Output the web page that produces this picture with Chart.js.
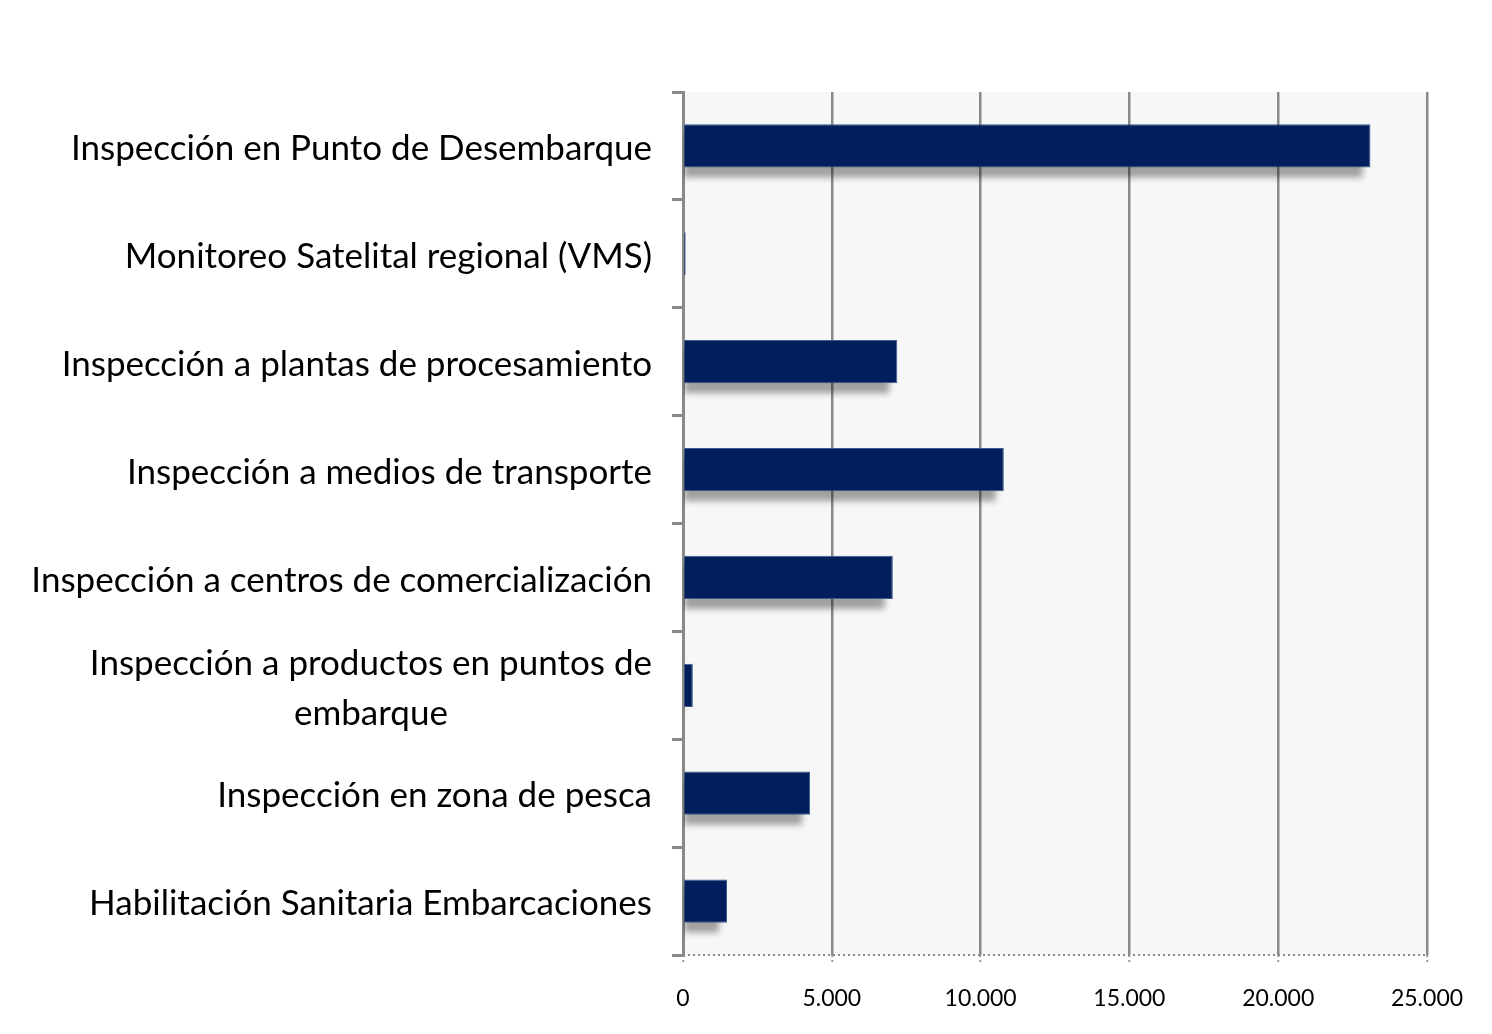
<!DOCTYPE html>
<html>
<head>
<meta charset="utf-8">
<script src="https://cdn.jsdelivr.net/npm/chart.js@4"></script>
<style>
  html, body { margin: 0; padding: 0; background: #fff; }
  #wrap { width: 1492px; height: 1034px; }
</style>
</head>
<body>
<div id="wrap"><canvas id="chart"></canvas></div>
<script>
const categories = [
    "Inspección en Punto de Desembarque",
    "Monitoreo Satelital regional (VMS)",
    "Inspección a plantas de procesamiento",
    "Inspección a medios de transporte",
    "Inspección a centros de comercialización",
    ["Inspección a productos en puntos de", "embarque"],
    "Inspección en zona de pesca",
    "Habilitación Sanitaria Embarcaciones"
];
const inspections = [23100, 90, 7200, 10780, 7050, 330, 4270, 1480];
const xTicks = [0, 5000, 10000, 15000, 20000, 25000];

const labelFont = '35px Lato, "Open Sans", sans-serif';

// plot background, bar shadows, dotted baseline and category labels
const decor = {
    id: 'decor',
    beforeDraw(chart) {
        const { ctx, chartArea: a } = chart;
        ctx.save();
        ctx.fillStyle = '#f7f7f7';
        ctx.fillRect(a.left, a.top, a.right - a.left, a.bottom - a.top);
        ctx.restore();
    },
    beforeDatasetsDraw(chart) {
        const ctx = chart.ctx;
        const a = chart.chartArea;
        ctx.save();
        ctx.beginPath();
        ctx.rect(a.left, a.top, a.right - a.left, a.bottom - a.top);
        ctx.clip();
        ctx.filter = 'blur(3px)';
        ctx.fillStyle = 'rgba(0, 0, 0, 0.35)';
        chart.getDatasetMeta(0).data.forEach(bar => {
            const h = bar.height;
            const w = bar.x - bar.base;
            if (w < 2) return;
            ctx.fillRect(bar.base, bar.y - h / 2 + 10, w - 8, h);
        });
        ctx.restore();
    },
    afterDraw(chart) {
        const ctx = chart.ctx;
        const a = chart.chartArea;
        const y = chart.scales.y;

        // dotted baseline
        ctx.save();
        ctx.strokeStyle = '#8a8a8a';
        ctx.lineWidth = 2;
        ctx.setLineDash([2, 3]);
        ctx.beginPath();
        ctx.moveTo(a.left, a.bottom);
        ctx.lineTo(a.right, a.bottom);
        ctx.stroke();
        ctx.restore();

        const right = a.left - 31;
        ctx.save();
        ctx.font = labelFont;
        ctx.fillStyle = '#000';
        ctx.textBaseline = 'middle';
        ctx.textAlign = 'center';
        categories.forEach((lab, i) => {
            const lines = Array.isArray(lab) ? lab : [lab];
            const blockW = Math.max(...lines.map(l => ctx.measureText(l).width));
            const cx = right - blockW / 2;
            const lh = 50;
            const y0 = y.getPixelForTick(i) + 3 - (lines.length - 1) * lh / 2;
            lines.forEach((l, k) => ctx.fillText(l, cx, y0 + k * lh));
        });
        ctx.restore();
    }
};

const fmt = v => v.toString().replace(/\B(?=(\d{3})+(?!\d))/g, '.');

new Chart(document.getElementById('chart'), {
    type: 'bar',
    data: {
        labels: categories,
        datasets: [{
            data: inspections,
            backgroundColor: '#001f5c',
            borderColor: '#3b5a8f',
            borderWidth: 1,
            barPercentage: 0.4,
            categoryPercentage: 1
        }]
    },
    options: {
        indexAxis: 'y',
        responsive: true,
        maintainAspectRatio: false,
        animation: false,
        layout: { padding: { left: 0, right: 65, top: 92, bottom: 0 } },
        plugins: { legend: { display: false }, tooltip: { enabled: false } },
        scales: {
            x: {
                min: 0,
                max: 25000,
                afterBuildTicks: scale => { scale.ticks = xTicks.map(v => ({ value: v })); },
                afterFit: scale => { scale.height = 79; },
                grid: {
                    color: '#8a8a8a',
                    lineWidth: 2.5,
                    drawTicks: true,
                    tickLength: 8,
                    tickColor: '#9a9a9a',
                    tickWidth: 2,
                    tickBorderDash: [2, 3]
                },
                border: { display: false },
                ticks: {
                    color: '#000',
                    padding: 22,
                    font: { family: 'Lato, "Open Sans", sans-serif', size: 23 },
                    callback: v => fmt(v)
                }
            },
            y: {
                afterFit: scale => { scale.width = 683; },
                grid: {
                    drawOnChartArea: false,
                    drawTicks: true,
                    tickLength: 11,
                    color: '#8a8a8a',
                    lineWidth: 3
                },
                border: { display: true, color: '#8a8a8a', width: 3 },
                ticks: { display: false }
            }
        }
    },
    plugins: [decor]
});
</script>
</body>
</html>
